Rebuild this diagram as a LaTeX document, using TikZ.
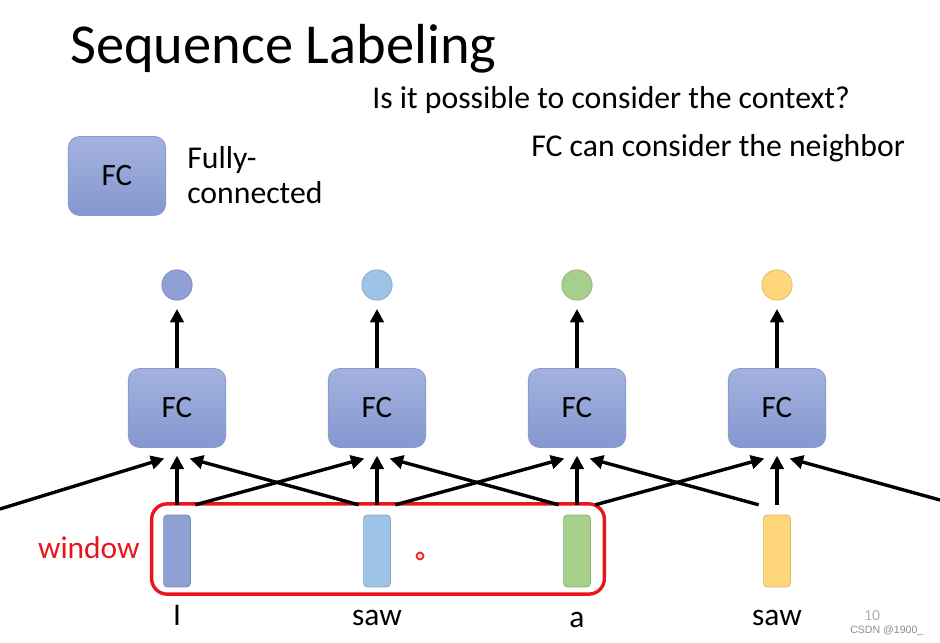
\documentclass[tikz,border=0pt]{standalone}
\usepackage{fontspec}
\setmainfont{Carlito}
\newfontfamily\markfont{Liberation Sans}
\usetikzlibrary{arrows.meta,calc}

\definecolor{fctop}{HTML}{A3B2DE}
\definecolor{fcbot}{HTML}{8597D0}
\definecolor{fcline}{HTML}{8A9BCF}
\definecolor{cblue}{HTML}{8FA0D4}
\definecolor{clight}{HTML}{9DC3E6}
\definecolor{cgreen}{HTML}{A6CF8C}
\definecolor{cyellow}{HTML}{FFD77A}
\definecolor{winred}{HTML}{E8161B}

\tikzset{
    fc/.style={draw=fcline, line width=0.6pt, rounded corners=8pt,
        top color=fctop, bottom color=fcbot,
        minimum width=69pt, minimum height=56pt,
        font=\fontsize{22}{24}\selectfont},
    outdot/.style={circle, draw=#1!85!black, line width=0.5pt, fill=#1, minimum size=21.5pt, inner sep=0pt},
    vec/.style={draw=#1!85!black, line width=0.5pt, fill=#1, rounded corners=2.5pt,
        minimum width=19pt, minimum height=51pt, inner sep=0pt},
    word/.style={anchor=base, inner sep=0pt, font=\fontsize{22.3}{26}\selectfont},
    txt/.style={anchor=base west, inner sep=0pt, font=\fontsize{22.5}{25.5}\selectfont},
    link/.style={line width=2.4pt, -{Triangle[length=9.5pt,width=9.5pt]}}
}

\begin{document}
\begin{tikzpicture}[x=0.709pt,y=-0.709pt]
    \useasboundingbox[fill=white] (0,0) rectangle (940,643);

    % header and legend
    \node[anchor=base west, inner sep=0pt, font=\fontsize{40}{46}\selectfont] at (70,64) (title) {Sequence Labeling};
    \node[txt] at (372,109) (q) {Is it possible to consider the context?};
    \node[txt] at (531,157) (ans) {FC can consider the neighbor};
    \node[fc] at (117,176) (leg) {FC};
    \node[txt, align=left] at (187,204) (legtxt) {Fully-\\connected};

    % fully connected layers
    \node[fc] at (177,408) (fc1) {FC};
    \node[fc] at (377,408) (fc2) {FC};
    \node[fc] at (577,408) (fc3) {FC};
    \node[fc] at (777,408) (fc4) {FC};

    \node[outdot=cblue] at (177,285) (y1) {};
    \node[outdot=clight] at (377,285) (y2) {};
    \node[outdot=cgreen] at (577,285) (y3) {};
    \node[outdot=cyellow] at (777,285) (y4) {};

    % input vectors
    \node[vec=cblue] at (177,551) (x1) {};
    \node[vec=clight] at (377,551) (x2) {};
    \node[vec=cgreen] at (577,551) (x3) {};
    \node[vec=cyellow] at (777,551) (x4) {};

    \node[word] at (177,625) (w1) {I};
    \node[word] at (377,625) (w2) {saw};
    \node[word] at (577,627) (w3) {a};
    \node[word] at (777,625) (w4) {saw};

    \node[draw=winred, line width=2.4pt, rounded corners=11pt, minimum width=321pt, minimum height=64pt] at (378,549) (win) {};
    \node[anchor=base east, inner sep=0pt, text=winred, font=\fontsize{22.3}{26}\selectfont] at (140,558) (wlab) {window};
    \node[circle, draw=winred, line width=1.1pt, fill=winred!15, minimum size=5pt, inner sep=0pt] at (420,556) (dot) {};

    \coordinate (lin) at (0,509);
    \coordinate (rin) at (940,500);

    \draw[link] (fc1.north) -- ([yshift=-6pt]y1.south);
    \draw[link] (fc2.north) -- ([yshift=-6pt]y2.south);
    \draw[link] (fc3.north) -- ([yshift=-6pt]y3.south);
    \draw[link] (fc4.north) -- ([yshift=-6pt]y4.south);

    \draw[link] ([yshift=7pt]x1.north) -- ([yshift=-5.5pt]fc1.south);
    \draw[link] ([yshift=7pt]x2.north) -- ([yshift=-5.5pt]fc2.south);
    \draw[link] ([yshift=7pt]x3.north) -- ([yshift=-5.5pt]fc3.south);
    \draw[link] ([yshift=7pt]x4.north) -- ([yshift=-5.5pt]fc4.south);

    \draw[link] (lin) -- ([xshift=-9pt,yshift=-7.5pt]fc1.south);
    \draw[link] ([xshift=-13pt,yshift=7pt]x2.north) -- ([xshift=9pt,yshift=-7.5pt]fc1.south);
    \draw[link] ([xshift=13pt,yshift=7pt]x1.north) -- ([xshift=-9pt,yshift=-7.5pt]fc2.south);
    \draw[link] ([xshift=-13pt,yshift=7pt]x3.north) -- ([xshift=9pt,yshift=-7.5pt]fc2.south);
    \draw[link] ([xshift=13pt,yshift=7pt]x2.north) -- ([xshift=-9pt,yshift=-7.5pt]fc3.south);
    \draw[link] ([xshift=-13pt,yshift=7pt]x4.north) -- ([xshift=9pt,yshift=-7.5pt]fc3.south);
    \draw[link] ([xshift=13pt,yshift=7pt]x3.north) -- ([xshift=-9pt,yshift=-7.5pt]fc4.south);
    \draw[link] (rin) -- ([xshift=9pt,yshift=-7.5pt]fc4.south);

    % slide number and mark
    \node[anchor=base, inner sep=0pt, text=black!30, font=\fontsize{11}{12}\selectfont] at (872,620) (pg) {10};
    \node[anchor=base west, inner sep=0pt, text=black!45, font=\markfont\fontsize{7.5}{9}\selectfont] at (850,633) (mark) {CSDN @1900\_};
\end{tikzpicture}
\end{document}
